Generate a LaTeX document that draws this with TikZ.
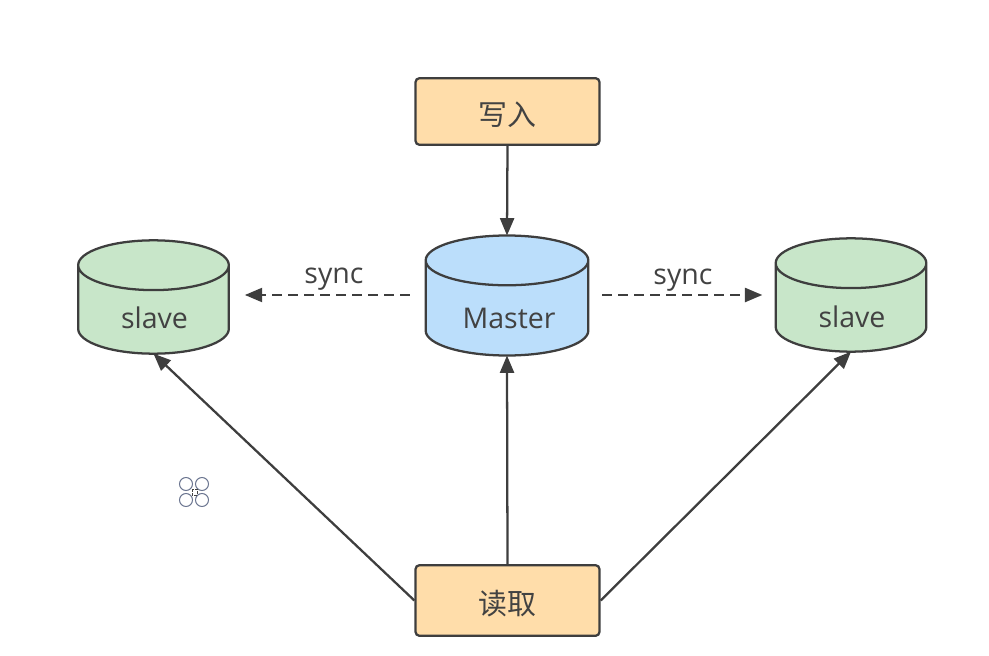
\documentclass[tikz,border=0pt]{standalone}
\usepackage{fontspec}
\setmainfont{Open Sans}
\newfontfamily\cjk{Noto Sans CJK SC}
\usetikzlibrary{arrows.meta,shapes.geometric}
\definecolor{linegray}{RGB}{62,62,62}
\definecolor{textgray}{RGB}{66,66,66}
\definecolor{boxfill}{RGB}{255,221,170}
\definecolor{masterfill}{RGB}{187,222,251}
\definecolor{slavefill}{RGB}{200,230,201}
\definecolor{iconring}{RGB}{108,118,145}
\tikzset{box/.style={draw=linegray,line width=1.7pt,fill=boxfill,rounded corners=3pt,minimum width=138pt,text=textgray,text height=22pt,text depth=1.6pt,font=\cjk\fontsize{21.7pt}{26pt}\selectfont},
 dbase/.style={cylinder,shape border rotate=90,anchor=shape center,draw=linegray,line width=1.7pt,aspect=5.6,outer sep=0pt},
 label/.style={text=textgray,font=\fontsize{21.4pt}{26pt}\selectfont,inner sep=0pt},
 flow/.style={-{Triangle[length=13pt,width=10.5pt]},draw=linegray,line width=1.7pt},
 sync/.style={flow,dashed,dash pattern=on 7pt off 5pt},
 ring/.style={draw=iconring,line width=.8pt}}
\begin{document}
\begin{tikzpicture}[x=.75pt,y=-.75pt]
\useasboundingbox (0,0) rectangle (989,656);
\node[box,minimum height=50pt] (write) at (507.5,111.5) {写入};
\node[box,minimum height=53pt] (read) at (507.5,600.5) {读取};
\node[dbase,fill=masterfill,minimum width=122pt,minimum height=90pt] (master) at (507,295.5) {};
\node[dbase,fill=slavefill,minimum width=113pt,minimum height=85pt] (slavel) at (153.5,297) {};
\node[dbase,fill=slavefill,minimum width=113pt,minimum height=85pt] (slaver) at (851,295) {};
\node[label] (mastertext) at (509,318) {Master};
\node[label] (slaveltext) at (154.5,318) {slave};
\node[label] (slavertext) at (852,317) {slave};
\node[label] (syncl) at (334,279) {sync};
\node[label] (syncr) at (683,280) {sync};
\coordinate (syncline) at (507,295);
\draw[flow] (write.south) -- (master.north);
\draw[flow] (read.north) -- (master.south);
\draw[flow] (read.west) -- (slavel.south);
\draw[flow] (read.east) -- (slaver.south);
\draw[sync,shorten <=12pt,shorten >=12pt] (master.west |- syncline) -- (slavel.east |- syncline);
\draw[sync,shorten <=10.5pt,shorten >=10pt] (master.east |- syncline) -- (slaver.west |- syncline);
% cursor mark
\foreach \cx/\cy in {186/484,202/484,186/500,202/500}
 \draw[ring] (\cx,\cy) circle (6.5);
\draw[draw=textgray,line width=.6pt,dash pattern=on 2pt off 1pt] (192,489) rectangle (197,495);
\end{tikzpicture}
\end{document}
